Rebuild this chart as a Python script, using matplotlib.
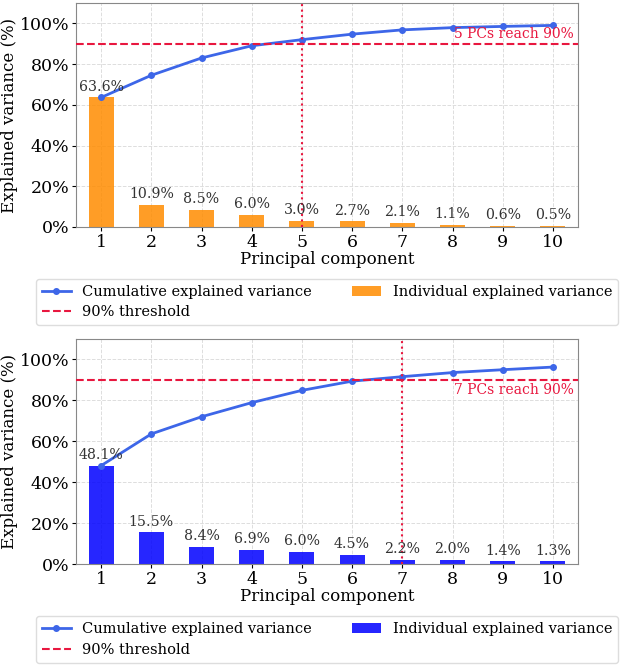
import numpy as np
import matplotlib
matplotlib.use("Agg")
import matplotlib.pyplot as plt
from matplotlib.ticker import PercentFormatter

plt.rcParams['font.family'] = 'DejaVu Serif'

components = list(range(1, 11))

# top panel
indiv_a = [63.6, 10.9, 8.5, 6.0, 3.0, 2.7, 2.1, 1.1, 0.6, 0.5]
cum_a = [63.6, 74.5, 83.0, 89.0, 92.0, 94.7, 96.8, 97.9, 98.5, 99.0]
n90_a = 5

# bottom panel
indiv_b = [48.1, 15.5, 8.4, 6.9, 6.0, 4.5, 2.2, 2.0, 1.4, 1.3]
cum_b = [48.1, 63.6, 72.0, 78.9, 84.9, 89.4, 91.6, 93.6, 95.0, 96.3]
n90_b = 7

threshold = 90
red = '#E8173F'

fig = plt.figure(figsize=(6.21, 6.67), dpi=100)
ax1 = fig.add_axes([0.1224, 0.6597, 0.8084, 0.3358])
ax2 = fig.add_axes([0.1224, 0.1544, 0.8084, 0.3373])


def draw(ax, indiv, cum, n90, bar_color, text_above):
    bars = ax.bar(components, indiv, width=0.5, color=bar_color, alpha=0.85,
                  label='Individual explained variance', zorder=2)
    line, = ax.plot(components, cum, color='#3D66E8', lw=2, marker='o', ms=4,
                    label='Cumulative explained variance', zorder=3)
    thr = ax.axhline(threshold, color=red, ls='--', lw=1.5, label='90% threshold', zorder=3)
    ax.axvline(n90, color=red, ls=':', lw=1.5, zorder=3)
    for b, v in zip(bars, indiv):
        ax.annotate(f'{v:.1f}%', (b.get_x() + b.get_width() / 2, v),
                    xytext=(0, 2.5), textcoords='offset points',
                    ha='center', va='bottom', fontsize=10.2, color='#333333')
    if text_above:
        ax.text(10.42, threshold + 1.2, f'{n90} PCs reach 90%', color=red,
                ha='right', va='bottom', fontsize=10)
    else:
        ax.text(10.42, threshold - 1.5, f'{n90} PCs reach 90%', color=red,
                ha='right', va='top', fontsize=10)
    ax.set_xlim(0.5, 10.5)
    ax.set_ylim(0, 110)
    ax.set_xticks(components)
    ax.set_yticks([0, 20, 40, 60, 80, 100])
    ax.yaxis.set_major_formatter(PercentFormatter(decimals=0))
    ax.tick_params(labelsize=12.5, length=3, pad=2)
    ax.set_xlabel('Principal component', fontsize=12, labelpad=0)
    ax.set_ylabel('Explained variance (%)', fontsize=12, labelpad=1)
    ax.grid(True, ls='--', color='#dddddd', lw=0.7, zorder=0)
    ax.set_axisbelow(True)
    for s in ax.spines.values():
        s.set_color('#888888')
    ax.legend(handles=[line, thr, bars], ncol=2, loc='upper center',
              bbox_to_anchor=(0.5, -0.2), fontsize=10.5, framealpha=1,
              edgecolor='#dddddd', handlelength=2, columnspacing=2.75,
              labelspacing=0.45, handletextpad=0.8)


draw(ax1, indiv_a, cum_a, n90_a, '#FF8C00', True)
draw(ax2, indiv_b, cum_b, n90_b, '#0000FF', False)

fig.savefig('out.png', dpi=100)
